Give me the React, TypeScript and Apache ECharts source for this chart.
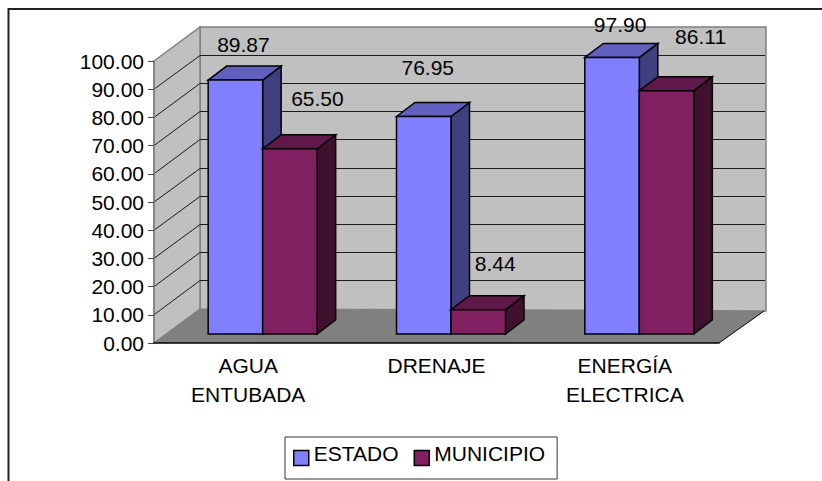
import React, { useEffect, useRef } from "react";
import * as echarts from "echarts";

const categories = ["AGUA\nENTUBADA", "DRENAJE", "ENERGÍA\nELECTRICA"];
const seriesNames = ["ESTADO", "MUNICIPIO"];
const estado = [89.87, 76.95, 97.9];
const municipio = [65.5, 8.44, 86.11];
const yTicks = [0, 10, 20, 30, 40, 50, 60, 70, 80, 90, 100];

const FONT = '"Liberation Sans", Arial, sans-serif';
const FS = 21;
const WALL_DX = 46;
const WALL_DY = -34;
const BAR_W = 54.5;
const BAR_DX = 18.5;
const BAR_DY = -14;
const BAR_SHIFT_X = 14.5;
const BAR_SHIFT_Y = -9;

const labelShift = [
  [[8, -35], [4, -49], [8, -32]],
  [[27.5, -50], [17, -46], [34, -54]],
];
const shades = [
  { front: "#8080FF", top: "#6060BF", side: "#404080" },
  { front: "#802060", top: "#60184A", side: "#40102F" },
];

function barRenderer(si: number) {
  return (params: any, api: any) => {
    const i = api.value(0);
    const v = api.value(1);
    const c = api.coord([i, v]);
    const b = api.coord([i, 0]);
    const x0 = c[0] + BAR_SHIFT_X + (si === 0 ? -BAR_W : 0);
    const x1 = x0 + BAR_W;
    const yt = c[1] + BAR_SHIFT_Y - 0.5;
    const yb = b[1] + BAR_SHIFT_Y;
    const line = { stroke: "#000", lineWidth: 1.5 };
    const s = shades[si];
    const [lx, ly] = labelShift[si][i];
    return {
      type: "group",
      children: [
        { type: "polygon", shape: { points: [[x1, yb], [x1 + BAR_DX, yb + BAR_DY], [x1 + BAR_DX, yt + BAR_DY], [x1, yt]] }, style: { fill: s.side, ...line } },
        { type: "polygon", shape: { points: [[x0, yt], [x0 + BAR_DX, yt + BAR_DY], [x1 + BAR_DX, yt + BAR_DY], [x1, yt]] }, style: { fill: s.top, ...line } },
        { type: "rect", shape: { x: x0, y: yt, width: BAR_W, height: yb - yt }, style: { fill: s.front, ...line } },
        {
          type: "text",
          x: (x0 + x1) / 2 + lx,
          y: yt + ly - 0.5,
          style: { text: v.toFixed(2), fill: "#000", font: `${FS}px ${FONT}`, align: "center", verticalAlign: "middle" },
        },
      ],
    };
  };
}

function wallRenderer(params: any, api: any) {
  const band = api.size([1, 0])[0];
  const left = api.coord([0, 0])[0] - band / 2;
  const right = api.coord([categories.length - 1, 0])[0] + band / 2;
  const y0 = api.coord([0, 0])[1];
  const yMax = api.coord([0, 100])[1];
  const bl = left + WALL_DX;
  const br = right + WALL_DX + 1;
  const grey = { stroke: "#808080", lineWidth: 1.5 };
  const children: any[] = [
    { type: "polygon", shape: { points: [[bl, yMax + WALL_DY], [br, yMax + WALL_DY], [br, y0 + WALL_DY + 2], [bl, y0 + WALL_DY]] }, style: { fill: "#C0C0C0", ...grey } },
    { type: "polygon", shape: { points: [[left, yMax], [bl, yMax + WALL_DY], [bl, y0 + WALL_DY], [left, y0]] }, style: { fill: "#C0C0C0", ...grey } },
  ];
  yTicks.slice(1, -1).forEach((t) => {
    const y = api.coord([0, t])[1];
    const yb = Math.floor(y + WALL_DY) + 0.5;
    children.push({
      type: "polyline",
      shape: { points: [[left, y], [bl, yb], [br - 1, yb]] },
      style: { fill: "none", stroke: "#1a1a1a", lineWidth: 1 },
    });
  });
  children.push({
    type: "polygon",
    shape: { points: [[left, y0], [right, y0], [br - 2, y0 + WALL_DY + 2], [bl, y0 + WALL_DY]] },
    style: { fill: "#808080" },
  });
  children.push({
    type: "line",
    shape: { x1: right, y1: y0, x2: br - 2, y2: y0 + WALL_DY + 2 },
    style: { stroke: "#000", lineWidth: 1 },
  });
  return { type: "group", children };
}

export default function App() {
  const ref = useRef<HTMLDivElement>(null);
  useEffect(() => {
    const chart = echarts.init(ref.current!, undefined, { renderer: "svg" });
    chart.setOption({
      animation: false,
      backgroundColor: "#fff",
      grid: { left: 154, top: 61, width: 565, height: 282 },
      xAxis: {
        type: "category",
        data: categories,
        z: 5,
        axisLine: { lineStyle: { color: "#000", width: 1.5 } },
        axisTick: { length: 5, alignWithLabel: false, lineStyle: { color: "#222", width: 1 } },
        axisLabel: { color: "#000", fontFamily: FONT, fontSize: FS, lineHeight: 29, margin: 8, interval: 0 },
      },
      yAxis: {
        type: "value",
        min: 0,
        max: 100,
        interval: 10,
        z: 5,
        splitLine: { show: false },
        axisLine: { show: true, lineStyle: { color: "#808080", width: 1.5 } },
        axisTick: { show: true, length: 6, lineStyle: { color: "#444", width: 1 } },
        axisLabel: { color: "#000", fontFamily: FONT, fontSize: FS, margin: 10, formatter: (v: number) => v.toFixed(2) },
      },
      legend: {
        data: seriesNames.map((n, i) => ({
          name: n,
          icon: "rect",
          itemStyle: { color: shades[i].front, borderColor: "#000", borderWidth: 1.5 },
        })),
        left: 285,
        top: 437,
        padding: [6, 12, 6, 8],
        itemWidth: 15,
        itemHeight: 15,
        itemGap: 15,
        backgroundColor: "#fff",
        borderColor: "#333",
        borderWidth: 1,
        selectedMode: false,
        formatter: (n: string) => `{t|${n}}`,
        textStyle: {
          color: "#000",
          fontFamily: FONT,
          fontSize: FS,
          rich: { t: { color: "#000", fontFamily: FONT, fontSize: FS, lineHeight: 21, padding: [0, 0, 9, 0] } },
        },
      },
      graphic: [
        { type: "line", shape: { x1: 8.5, y1: 8, x2: 8.5, y2: 481 }, style: { stroke: "#222", lineWidth: 2 } },
        { type: "line", shape: { x1: 8, y1: 9, x2: 822, y2: 9 }, style: { stroke: "#222", lineWidth: 2 } },
      ],
      series: [
        { type: "custom", name: "walls", silent: true, z: 1, data: [[0, 0]], renderItem: wallRenderer },
        ...[estado, municipio].map((vals, si) => ({
          type: "custom",
          name: seriesNames[si],
          z: 2 + si,
          data: vals.map((v, i) => [i, v]),
          encode: { x: 0, y: 1 },
          itemStyle: { color: shades[si].front },
          renderItem: barRenderer(si),
        })),
      ],
    });
    return () => chart.dispose();
  }, []);
  return <div ref={ref} style={{ position: "fixed", left: 0, top: 0, width: 822, height: 481 }} />;
}
